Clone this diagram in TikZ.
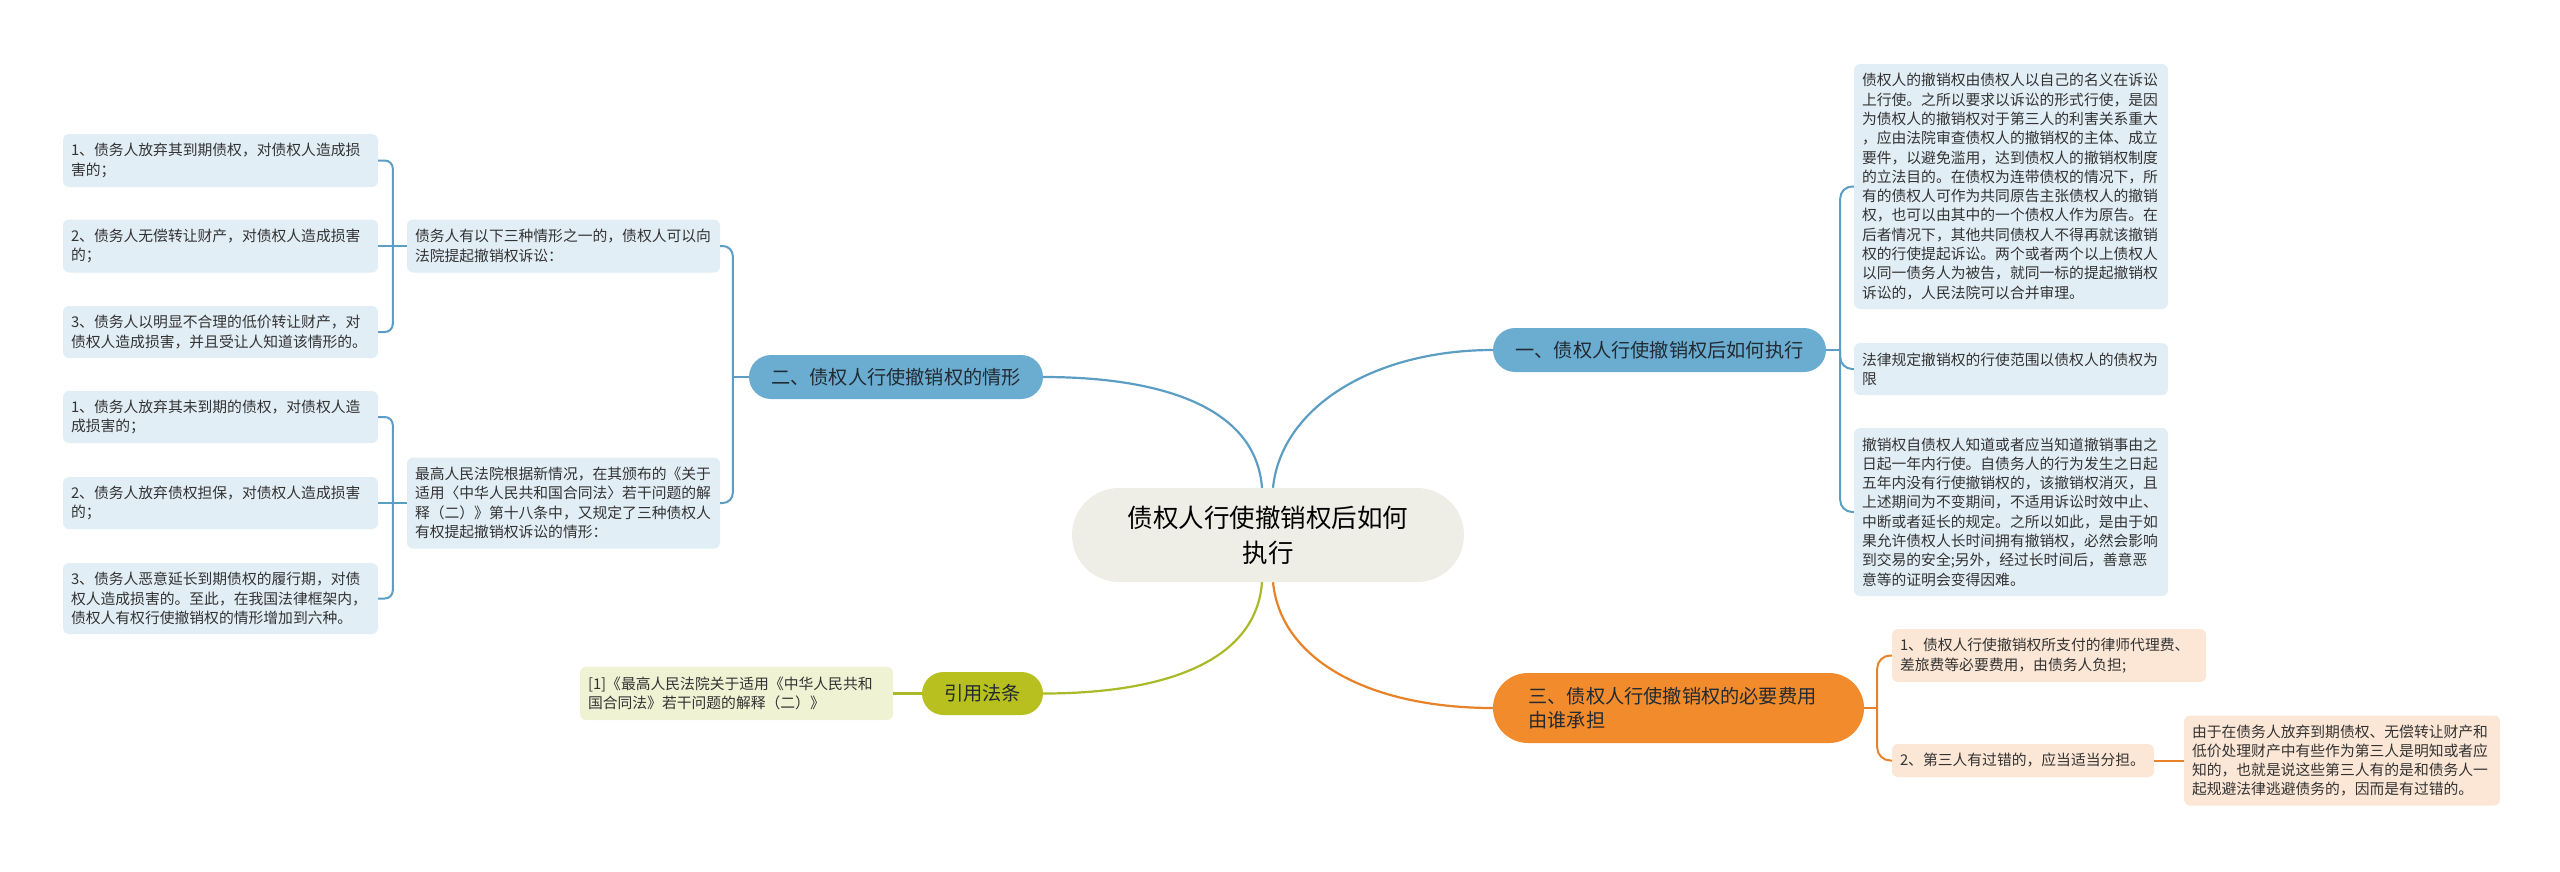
\documentclass[tikz,border=0pt]{standalone}
\usepackage{fontspec}
\setmainfont{Noto Sans CJK SC}
\usetikzlibrary{calc}
\definecolor{mblue}{RGB}{107,173,209}
\definecolor{lblue}{RGB}{226,238,246}
\definecolor{bline}{RGB}{92,157,196}
\definecolor{cfill}{RGB}{238,238,230}
\definecolor{olive}{RGB}{183,192,30}
\definecolor{lolive}{RGB}{240,242,212}
\definecolor{oline}{RGB}{170,185,40}
\definecolor{orng}{RGB}{242,139,44}
\definecolor{lorng}{RGB}{252,231,214}
\definecolor{rline}{RGB}{232,130,40}
\definecolor{txt}{RGB}{51,51,51}
\definecolor{mtxt}{RGB}{34,42,50}
\begin{document}
\begin{tikzpicture}[x=1pt,y=-1pt,
  leaf/.style={rounded corners=6pt, inner xsep=8pt, inner ysep=0pt, align=left, text=txt,
    font=\fontsize{14.8}{19.3}\selectfont},
  leafb/.style={leaf, fill=lblue},
  leafo/.style={leaf, fill=lorng},
  leafy/.style={leaf, fill=lolive},
  mainnode/.style={inner sep=0pt, text=mtxt, font=\fontsize{19.2}{24.3}\selectfont},
  blink/.style={draw=bline, line width=2.2pt},
  blbr/.style={draw=bline, line width=2pt},
  ylink/.style={draw=oline, line width=2.2pt},
  olink/.style={draw=rline, line width=2.2pt},
  olbr/.style={draw=rline, line width=2pt}
]
\useasboundingbox (0,0) rectangle (2560,871);

% center
\node[fill=cfill, rounded corners=47pt, inner sep=0pt, minimum width=392pt, minimum height=94pt,
  text width=300pt, align=center, text=black, font=\fontsize{25.5}{35}\selectfont] (c) at (1268,535)
  {债权人行使撤销权后如何\\执行};

% main branches
\node[mainnode, fill=mblue, rounded corners=22pt, minimum width=333pt, minimum height=44pt] (b1) at (1659.5,350) {一、债权人行使撤销权后如何执行};
\node[mainnode, fill=mblue, rounded corners=22pt, minimum width=294pt, minimum height=44pt] (b2) at (896,377) {二、债权人行使撤销权的情形};
\node[mainnode, fill=orng, rounded corners=35pt, minimum width=371pt, minimum height=70pt, text width=300pt, align=left] (b3) at (1678.5,708) {三、债权人行使撤销权的必要费用\\由谁承担};
\node[mainnode, fill=olive, rounded corners=21.5pt, minimum width=121pt, minimum height=43pt] (yy) at (982.5,693.5) {引用法条};

% citation
\node[leafy, text width=297pt, minimum height=53pt] (cit) at (736.5,693.5)
  {[1]《最高人民法院关于适用《中华人民共和\\国合同法》若干问题的解释（二）》};

% left side
\node[leafb, text width=297pt, minimum height=53pt] (L1p) at (563.5,246)
  {债务人有以下三种情形之一的，债权人可以向\\法院提起撤销权诉讼：};
\node[leafb, text width=299pt, minimum height=53pt] (L1a) at (220.5,160.5)
  {1、债务人放弃其到期债权，对债权人造成损\\害的；};
\node[leafb, text width=299pt, minimum height=53pt] (L1b) at (220.5,246)
  {2、债务人无偿转让财产，对债权人造成损害\\的；};
\node[leafb, text width=299pt, minimum height=52pt] (L1c) at (220.5,332)
  {3、债务人以明显不合理的低价转让财产，对\\债权人造成损害，并且受让人知道该情形的。};

\node[leafb, text width=297pt, minimum height=91pt] (L2p) at (563.5,503)
  {最高人民法院根据新情况，在其颁布的《关于\\适用〈中华人民共和国合同法〉若干问题的解\\释（二）》第十八条中，又规定了三种债权人\\有权提起撤销权诉讼的情形：};
\node[leafb, text width=299pt, minimum height=52pt] (L2a) at (220.5,417)
  {1、债务人放弃其未到期的债权，对债权人造\\成损害的；};
\node[leafb, text width=299pt, minimum height=52pt] (L2b) at (220.5,503)
  {2、债务人放弃债权担保，对债权人造成损害\\的；};
\node[leafb, text width=299pt, minimum height=71pt] (L2c) at (220.5,598.5)
  {3、债务人恶意延长到期债权的履行期，对债\\权人造成损害的。至此，在我国法律框架内，\\债权人有权行使撤销权的情形增加到六种。};

% right side (blue)
\node[leafb, text width=298pt, minimum height=245pt] (R1) at (2011,186.5)
  {债权人的撤销权由债权人以自己的名义在诉讼\\上行使。之所以要求以诉讼的形式行使，是因\\为债权人的撤销权对于第三人的利害关系重大\\，应由法院审查债权人的撤销权的主体、成立\\要件，以避免滥用，达到债权人的撤销权制度\\的立法目的。在债权为连带债权的情况下，所\\有的债权人可作为共同原告主张债权人的撤销\\权，也可以由其中的一个债权人作为原告。在\\后者情况下，其他共同债权人不得再就该撤销\\权的行使提起诉讼。两个或者两个以上债权人\\以同一债务人为被告，就同一标的提起撤销权\\诉讼的，人民法院可以合并审理。};
\node[leafb, text width=298pt, minimum height=52pt] (R2) at (2011,369)
  {法律规定撤销权的行使范围以债权人的债权为\\限};
\node[leafb, text width=298pt, minimum height=168pt] (R3) at (2011,512)
  {撤销权自债权人知道或者应当知道撤销事由之\\日起一年内行使。自债务人的行为发生之日起\\五年内没有行使撤销权的，该撤销权消灭，且\\上述期间为不变期间，不适用诉讼时效中止、\\中断或者延长的规定。之所以如此，是由于如\\果允许债权人长时间拥有撤销权，必然会影响\\到交易的安全;另外，经过长时间后，善意恶\\意等的证明会变得因难。};

% right side (orange)
\node[leafo, text width=298pt, minimum height=53pt] (O1) at (2049,655.5)
  {1、债权人行使撤销权所支付的律师代理费、\\差旅费等必要费用，由债务人负担;};
\node[leafo, text width=246pt, minimum height=33pt] (O2) at (2023,760.5)
  {2、第三人有过错的，应当适当分担。};
\node[leafo, text width=300pt, minimum height=90pt] (O3) at (2342,760.5)
  {由于在债务人放弃到期债权、无偿转让财产和\\低价处理财产中有些作为第三人是明知或者应\\知的，也就是说这些第三人有的是和债务人一\\起规避法律逃避债务的，因而是有过错的。};

% main curves
\draw[blink] ([xshift=-6pt]c.north) .. controls +(-6,-80) and +(120,0) .. (b2.east);
\draw[blink] ([xshift=5pt]c.north) .. controls +(8,-80) and +(-120,0) .. (b1.west);
\draw[ylink] ([xshift=-6pt]c.south) .. controls +(-6,80) and +(120,0) .. (yy.east);
\draw[olink] ([xshift=5pt]c.south) .. controls +(8,80) and +(-120,0) .. (b3.west);

% branch 2 brackets
\draw[blbr] (b2.west) -- ++(-16,0) coordinate (t2);
\draw[blbr, rounded corners=10pt] (L1p.east) -| (t2);
\draw[blbr, rounded corners=10pt] (L2p.east) -| (t2);
\draw[blbr] (L1p.west) -- ++(-14,0) coordinate (t11);
\draw[blbr, rounded corners=8pt] (L1a.east) -| (t11);
\draw[blbr] (L1b.east) -- (t11);
\draw[blbr, rounded corners=8pt] (L1c.east) -| (t11);
\draw[blbr] (L2p.west) -- ++(-14,0) coordinate (t12);
\draw[blbr, rounded corners=8pt] (L2a.east) -| (t12);
\draw[blbr] (L2b.east) -- (t12);
\draw[blbr, rounded corners=8pt] (L2c.east) -| (t12);

% branch 1 brackets
\draw[blbr] (b1.east) -- ++(14,0) coordinate (t1);
\draw[blbr, rounded corners=12pt] (R1.west) -| (t1);
\draw[blbr, rounded corners=12pt] (R2.west) -| (t1);
\draw[blbr, rounded corners=12pt] (R3.west) -| (t1);

% branch 3 brackets
\draw[olbr] (b3.east) -- ++(13,0) coordinate (t3);
\draw[olbr, rounded corners=13pt] (O1.west) -| (t3);
\draw[olbr, rounded corners=13pt] (O2.west) -| (t3);
\draw[olbr] (O2.east) -- (O2.east -| O3.west);

% citation
\draw[ylink] (cit.east) -- (yy.west);
\end{tikzpicture}
\end{document}
